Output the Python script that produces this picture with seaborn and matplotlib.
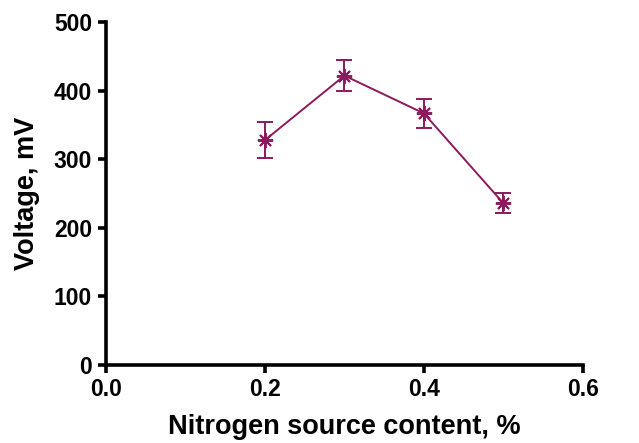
import numpy as np
import pandas as pd
import matplotlib
matplotlib.use("Agg")
import matplotlib.pyplot as plt
import seaborn as sns

# data
nitrogen = [0.2, 0.3, 0.4, 0.5]
voltage = [328, 422, 367, 236]
voltage_err = [26, 23, 21, 15]

df = pd.DataFrame({"nitrogen": nitrogen, "voltage": voltage, "err": voltage_err})

sns.set_style("ticks")
plt.rcParams['font.family'] = ['Liberation Sans', 'DejaVu Sans']
plt.rcParams['font.weight'] = 'bold'

color = '#8c1a5c'

fig = plt.figure(figsize=(6.39, 4.43), dpi=100)
ax = fig.add_axes([0.166, 0.176, 0.746, 0.774])

sns.lineplot(data=df, x="nitrogen", y="voltage", ax=ax, color=color,
             linewidth=1.4, marker=(8, 2, 0), markersize=11,
             markeredgecolor=color, markeredgewidth=1.4)
ax.errorbar(df["nitrogen"], df["voltage"], yerr=df["err"], fmt='none',
            ecolor=color, elinewidth=1.4, capsize=6, capthick=1.4)

ax.set_xlim(0, 0.6)
ax.set_ylim(0, 500)
ax.set_xticks([0.0, 0.2, 0.4, 0.6])
ax.set_xticklabels(['0.0', '0.2', '0.4', '0.6'])
ax.set_yticks([0, 100, 200, 300, 400, 500])

sns.despine(ax=ax)
for s in ['left', 'bottom']:
    ax.spines[s].set_linewidth(2.6)
    ax.spines[s].set_color('black')
ax.tick_params(width=2.6, length=6, labelsize=16.5, colors='black')
ax.tick_params(axis='x', pad=3)
ax.tick_params(axis='y', pad=4)
for lab in ax.get_xticklabels() + ax.get_yticklabels():
    lab.set_fontweight('bold')

ax.set_xlabel('Nitrogen source content, %', fontsize=19.5, fontweight='bold',
              labelpad=10, color='black')
ax.set_ylabel('Voltage, mV', fontsize=19.5, fontweight='bold',
              labelpad=10, color='black')

fig.savefig('out.png', dpi=100)
